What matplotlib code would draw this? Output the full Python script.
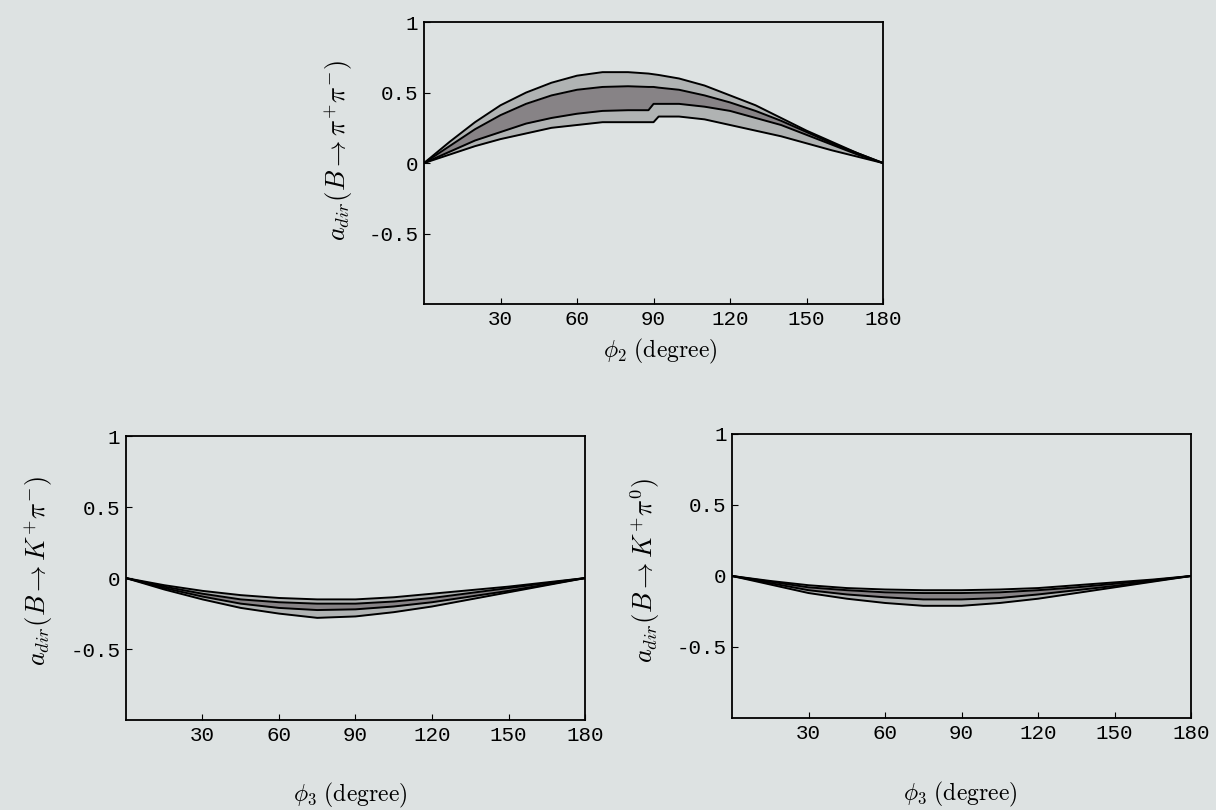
import numpy as np
import matplotlib.pyplot as plt

plt.rcParams['mathtext.fontset'] = 'cm'

# phi_2 scan, B -> pi+ pi-
phi_pp = [0, 10, 20, 30, 40, 50, 60, 70, 80, 88, 90, 92, 100, 110, 120, 130, 140, 150, 160, 170, 180]
pp_out_hi = [0, 0.15, 0.29, 0.41, 0.50, 0.57, 0.62, 0.645, 0.645, 0.635, 0.63, 0.625, 0.60, 0.55, 0.48, 0.41, 0.32, 0.23, 0.15, 0.07, 0]
pp_in_hi = [0, 0.12, 0.24, 0.34, 0.42, 0.48, 0.52, 0.54, 0.545, 0.54, 0.54, 0.535, 0.52, 0.48, 0.43, 0.37, 0.30, 0.22, 0.14, 0.07, 0]
pp_in_lo = [0, 0.08, 0.16, 0.22, 0.28, 0.32, 0.35, 0.37, 0.375, 0.375, 0.42, 0.42, 0.42, 0.40, 0.37, 0.32, 0.27, 0.20, 0.13, 0.06, 0]
pp_out_lo = [0, 0.06, 0.12, 0.17, 0.21, 0.25, 0.27, 0.29, 0.29, 0.29, 0.29, 0.33, 0.33, 0.31, 0.27, 0.23, 0.19, 0.14, 0.09, 0.045, 0]

# phi_3 scans, B -> K+ pi- and B -> K+ pi0
phi_k = [0, 15, 30, 45, 60, 75, 90, 105, 120, 135, 150, 165, 180]
kpm_out_hi = [0, -0.05, -0.09, -0.12, -0.14, -0.15, -0.15, -0.135, -0.11, -0.085, -0.06, -0.03, 0]
kpm_in_hi = [0, -0.06, -0.11, -0.15, -0.17, -0.18, -0.18, -0.165, -0.14, -0.105, -0.07, -0.035, 0]
kpm_in_lo = [0, -0.07, -0.13, -0.18, -0.21, -0.225, -0.22, -0.20, -0.17, -0.13, -0.09, -0.045, 0]
kpm_out_lo = [0, -0.08, -0.15, -0.21, -0.25, -0.28, -0.27, -0.24, -0.20, -0.15, -0.10, -0.05, 0]

kp0_out_hi = [0, -0.035, -0.065, -0.085, -0.095, -0.10, -0.10, -0.095, -0.085, -0.065, -0.045, -0.025, 0]
kp0_in_hi = [0, -0.04, -0.08, -0.10, -0.115, -0.12, -0.12, -0.115, -0.10, -0.08, -0.055, -0.03, 0]
kp0_in_lo = [0, -0.05, -0.10, -0.13, -0.15, -0.165, -0.165, -0.155, -0.13, -0.10, -0.07, -0.035, 0]
kp0_out_lo = [0, -0.06, -0.12, -0.16, -0.19, -0.21, -0.21, -0.19, -0.16, -0.12, -0.08, -0.04, 0]

xticks = [30, 60, 90, 120, 150, 180]
yticks = [-0.5, 0, 0.5, 1]
yticklabels = ['-0.5', '0', '0.5', '1']

bg = '#dde2e2'
fig = plt.figure(figsize=(12.16, 8.1), dpi=100, facecolor=bg)


def panel(rect, x, out_hi, in_hi, in_lo, out_lo, ylabel, xlabel, ylab_xy, xlab_xy):
    ax = fig.add_axes(rect, facecolor=bg)
    ax.fill_between(x, out_lo, out_hi, color='#b0b3b3', lw=0)
    ax.fill_between(x, in_lo, in_hi, color='#878386', lw=0)
    for y in (out_hi, in_hi, in_lo, out_lo):
        ax.plot(x, y, color='black', lw=1.4)
    ax.set_xlim(0, 180)
    ax.set_ylim(-1, 1)
    ax.set_xticks(xticks)
    ax.set_yticks(yticks)
    ax.set_yticklabels(yticklabels)
    ax.tick_params(direction='in', length=4, width=0.8, labelsize=15, pad=4)
    for lab in ax.get_xticklabels() + ax.get_yticklabels():
        lab.set_family('Liberation Mono')
    for s in ax.spines.values():
        s.set_linewidth(1.3)
    ax.set_ylabel(ylabel, fontsize=19)
    ax.set_xlabel(xlabel, fontsize=17)
    ax.yaxis.set_label_coords(*ylab_xy)
    ax.xaxis.set_label_coords(*xlab_xy)
    return ax


panel([0.3487, 0.6247, 0.3775, 0.348], phi_pp, pp_out_hi, pp_in_hi, pp_in_lo, pp_out_lo,
      r'$a_{dir}(B\rightarrow\pi^{+}\pi^{-})$', r'$\phi_2\ \mathrm{(degree)}$',
      (-0.15, 0.545), (0.514, -0.115))
panel([0.1036, 0.111, 0.3775, 0.3506], phi_k, kpm_out_hi, kpm_in_hi, kpm_in_lo, kpm_out_lo,
      r'$a_{dir}(B\rightarrow K^{+}\pi^{-})$', r'$\phi_3\ \mathrm{(degree)}$',
      (-0.155, 0.525), (0.488, -0.215))
panel([0.602, 0.1136, 0.3775, 0.3506], phi_k, kp0_out_hi, kp0_in_hi, kp0_in_lo, kp0_out_lo,
      r'$a_{dir}(B\rightarrow K^{+}\pi^{0})$', r'$\phi_3\ \mathrm{(degree)}$',
      (-0.153, 0.52), (0.497, -0.218))

fig.savefig('out.png', dpi=100, facecolor=bg)
